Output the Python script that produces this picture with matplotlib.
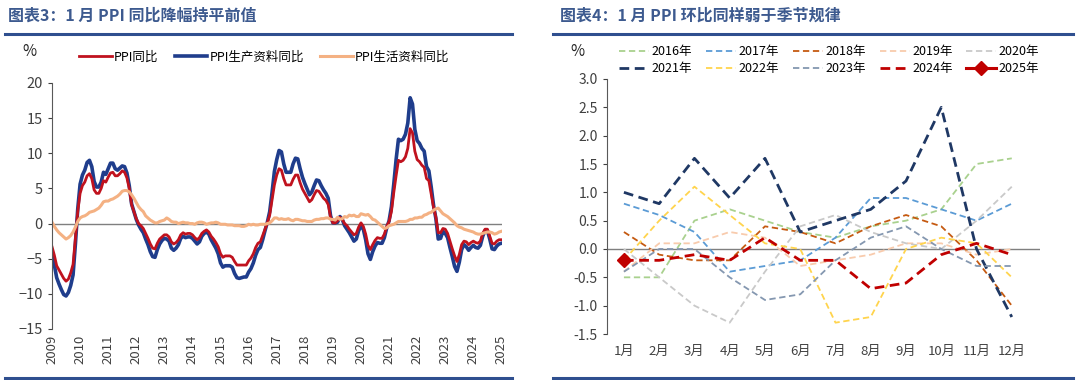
import matplotlib
matplotlib.use("Agg")
import matplotlib.pyplot as plt
from matplotlib.lines import Line2D
import numpy as np

plt.rcParams['font.family'] = ['Noto Sans CJK SC', 'DejaVu Sans']

# ---- 图表3 数据: 2009-01 ~ 2025-01 月度同比 (%)
ppi_yoy = [
    -3.3, -4.5, -6.0, -6.6, -7.2, -7.8, -8.2, -7.9, -7.0, -5.8, -2.1, 1.7,   # 2009
    4.3, 5.4, 5.9, 6.8, 7.1, 6.4, 4.8, 4.3, 4.3, 5.0, 6.1, 5.9,             # 2010
    6.6, 7.2, 7.3, 6.8, 6.8, 7.1, 7.5, 7.3, 6.5, 5.0, 2.7, 1.7,             # 2011
    0.7, 0.0, -0.3, -0.7, -1.4, -2.1, -2.9, -3.5, -3.6, -2.8, -2.2, -1.9,   # 2012
    -1.6, -1.6, -1.9, -2.6, -2.9, -2.7, -2.3, -1.6, -1.3, -1.5, -1.4, -1.4, # 2013
    -1.6, -2.0, -2.3, -2.0, -1.4, -1.1, -0.9, -1.2, -1.8, -2.2, -2.7, -3.3, # 2014
    -4.3, -4.8, -4.6, -4.6, -4.6, -4.8, -5.4, -5.9, -5.9, -5.9, -5.9, -5.9, # 2015
    -5.3, -4.9, -4.3, -3.4, -2.8, -2.6, -1.7, -0.8, 0.1, 1.2, 3.3, 5.5,     # 2016
    6.9, 7.8, 7.6, 6.4, 5.5, 5.5, 5.5, 6.3, 6.9, 6.9, 5.8, 4.9,             # 2017
    4.3, 3.7, 3.1, 3.4, 4.1, 4.7, 4.6, 4.1, 3.6, 3.3, 2.7, 0.9,             # 2018
    0.1, 0.1, 0.4, 0.9, 0.6, 0.0, -0.3, -0.8, -1.2, -1.6, -1.4, -0.5,       # 2019
    0.1, -0.4, -1.5, -3.1, -3.7, -3.0, -2.4, -2.0, -2.1, -2.1, -1.5, -0.4,  # 2020
    0.3, 1.7, 4.4, 6.8, 9.0, 8.8, 9.0, 9.5, 10.7, 13.5, 12.9, 10.3,         # 2021
    9.1, 8.8, 8.3, 8.0, 6.4, 6.1, 4.2, 2.3, 0.9, -1.3, -1.3, -0.7,          # 2022
    -0.8, -1.4, -2.5, -3.6, -4.6, -5.4, -4.4, -3.0, -2.5, -2.6, -3.0, -2.7, # 2023
    -2.5, -2.7, -2.8, -2.5, -1.4, -0.8, -0.8, -1.8, -2.8, -2.9, -2.5, -2.3, # 2024
    -2.3,                                                                    # 2025
]
ppi_producer_yoy = [
    -4.2, -5.9, -7.7, -8.6, -9.4, -10.1, -10.3, -9.8, -8.8, -7.3, -2.9, 2.1,
    5.6, 6.9, 7.6, 8.7, 9.0, 8.1, 6.0, 5.2, 5.2, 5.9, 7.3, 7.0,
    7.8, 8.6, 8.6, 7.8, 7.6, 7.9, 8.2, 8.1, 7.2, 5.4, 2.8, 1.7,
    0.6, -0.2, -0.8, -1.3, -2.2, -3.0, -4.0, -4.7, -4.8, -3.7, -2.9, -2.4,
    -2.1, -2.2, -2.5, -3.5, -3.8, -3.5, -3.0, -2.1, -1.8, -2.0, -1.9, -1.9,
    -2.1, -2.5, -2.9, -2.6, -1.8, -1.4, -1.2, -1.5, -2.3, -2.9, -3.5, -4.3,
    -5.6, -6.2, -6.0, -6.0, -6.0, -6.2, -7.1, -7.7, -7.8, -7.7, -7.6, -7.6,
    -6.9, -6.4, -5.6, -4.5, -3.7, -3.4, -2.3, -1.0, 0.2, 1.7, 4.4, 7.4,
    9.1, 10.4, 10.2, 8.5, 7.3, 7.3, 7.3, 8.5, 9.3, 9.2, 7.8, 6.6,
    5.7, 4.9, 4.1, 4.5, 5.4, 6.2, 6.1, 5.4, 4.8, 4.3, 3.6, 1.1,
    0.1, 0.1, 0.2, 1.0, 0.6, -0.3, -0.8, -1.3, -1.9, -2.5, -2.2, -1.0,
    -0.4, -0.8, -2.3, -4.3, -5.1, -4.0, -3.2, -2.7, -2.8, -2.8, -2.0, -0.6,
    0.4, 2.4, 5.6, 9.1, 12.0, 11.8, 12.0, 12.7, 14.3, 17.9, 17.0, 13.4,
    11.8, 11.4, 10.7, 10.3, 8.1, 7.5, 5.2, 2.6, 0.7, -2.2, -2.1, -1.1,
    -1.4, -2.0, -3.4, -4.7, -6.1, -6.8, -5.5, -3.7, -3.0, -3.3, -3.8, -3.4,
    -3.1, -3.4, -3.5, -3.1, -1.8, -1.0, -1.0, -2.2, -3.6, -3.7, -3.2, -2.9,
    -2.8,
]
ppi_consumer_yoy = [
    0.2, -0.4, -0.9, -1.3, -1.6, -1.9, -2.2, -2.0, -1.7, -1.2, -0.5, 0.3,
    0.8, 1.0, 1.1, 1.3, 1.6, 1.7, 1.8, 2.0, 2.2, 2.6, 3.1, 3.2,
    3.2, 3.4, 3.5, 3.7, 3.9, 4.2, 4.6, 4.7, 4.7, 4.5, 4.1, 3.6,
    3.0, 2.4, 2.0, 1.7, 1.1, 0.8, 0.5, 0.3, 0.1, 0.1, 0.3, 0.4,
    0.5, 0.8, 0.6, 0.3, 0.2, 0.2, 0.0, 0.1, 0.2, 0.1, 0.1, 0.0,
    0.0, -0.1, 0.1, 0.2, 0.2, 0.1, -0.1, 0.0, 0.1, 0.1, 0.2, 0.1,
    -0.1, -0.1, -0.1, -0.2, -0.2, -0.2, -0.3, -0.3, -0.3, -0.4, -0.4, -0.3,
    -0.1, -0.2, -0.1, -0.2, -0.2, -0.1, -0.1, -0.1, 0.0, 0.1, 0.4, 0.8,
    0.8, 0.6, 0.7, 0.6, 0.6, 0.7, 0.5, 0.4, 0.6, 0.6, 0.5, 0.4,
    0.4, 0.3, 0.3, 0.3, 0.5, 0.6, 0.6, 0.7, 0.7, 0.8, 0.8, 0.6,
    0.6, 0.5, 0.9, 0.6, 0.7, 1.0, 0.9, 1.2, 1.1, 1.2, 1.0, 1.0,
    1.4, 1.3, 1.2, 1.3, 1.0, 0.6, 0.5, 0.2, -0.1, -0.4, -0.7, -0.6,
    -0.3, -0.2, -0.1, 0.1, 0.3, 0.3, 0.3, 0.3, 0.4, 0.6, 0.6, 0.8,
    0.8, 0.9, 0.9, 1.2, 1.3, 1.5, 1.6, 1.9, 2.1, 2.2, 1.8, 1.4,
    1.2, 1.0, 0.7, 0.4, 0.1, -0.3, -0.5, -0.6, -0.8, -0.9, -1.0, -1.1,
    -1.2, -1.4, -1.5, -1.5, -1.4, -1.3, -1.2, -1.2, -1.3, -1.5, -1.4, -1.2,
    -1.1,
]
years_lbl = [str(y) for y in range(2009, 2026)]

# ---- 图表4 数据: 月度环比 (%)
months = ['1月', '2月', '3月', '4月', '5月', '6月', '7月', '8月', '9月', '10月', '11月', '12月']
mom = {
    '2016': [-0.5, -0.5, 0.5, 0.7, 0.5, 0.3, 0.2, 0.4, 0.5, 0.7, 1.5, 1.6],
    '2017': [0.8, 0.6, 0.3, -0.4, -0.3, -0.2, 0.2, 0.9, 0.9, 0.7, 0.5, 0.8],
    '2018': [0.3, -0.1, -0.2, -0.2, 0.4, 0.3, 0.1, 0.4, 0.6, 0.4, -0.2, -1.0],
    '2019': [-0.4, 0.1, 0.1, 0.3, 0.2, -0.3, -0.2, -0.1, 0.1, 0.1, -0.1, 0.0],
    '2020': [0.0, -0.5, -1.0, -1.3, -0.4, 0.4, 0.6, 0.3, 0.1, 0.0, 0.5, 1.1],
    '2021': [1.0, 0.8, 1.6, 0.9, 1.6, 0.3, 0.5, 0.7, 1.2, 2.5, 0.0, -1.2],
    '2022': [-0.2, 0.5, 1.1, 0.6, 0.1, 0.0, -1.3, -1.2, 0.0, 0.2, 0.1, -0.5],
    '2023': [-0.4, 0.0, 0.0, -0.5, -0.9, -0.8, -0.2, 0.2, 0.4, 0.0, -0.3, -0.3],
    '2024': [-0.2, -0.2, -0.1, -0.2, 0.2, -0.2, -0.2, -0.7, -0.6, -0.1, 0.1, -0.1],
    '2025': [-0.2],
}
mom_colors = {
    '2016': '#a9d18e', '2017': '#5b9bd5', '2018': '#c55a11', '2019': '#f8cbad',
    '2020': '#c9c9c9', '2021': '#1f3864', '2022': '#ffd44d', '2023': '#8497b0',
    '2024': '#c00000', '2025': '#c00000',
}

title_c = '#3d5a8f'
bar_c = '#2f4f8f'
tick_c = '#404040'

fig = plt.figure(figsize=(10.8, 3.8), dpi=100)

# 标题和装饰线
fig.text(8 / 1080, 1 - 16 / 380, '图表3：1 月 PPI 同比降幅持平前值', fontsize=11.5,
         color=title_c, style='italic', fontweight='bold', va='center')
fig.text(560 / 1080, 1 - 16 / 380, '图表4：1 月 PPI 环比同样弱于季节规律', fontsize=11.5,
         color=title_c, style='italic', fontweight='bold', va='center')
for x0, x1 in [(5, 512), (553, 1073)]:
    fig.add_artist(Line2D([x0 / 1080, x1 / 1080], [1 - 34 / 380] * 2, color=bar_c, lw=2.2))
    fig.add_artist(Line2D([x0 / 1080, x1 / 1080], [1 - 378 / 380] * 2, color=bar_c, lw=2.2))

# ---- 左图
ax1 = fig.add_axes([52 / 1080, 51 / 380, 450 / 1080, 246 / 380])
t = 2009 + np.arange(len(ppi_yoy)) / 12
ax1.axhline(0, color='#7f7f7f', lw=1)
l_blue, = ax1.plot(t, ppi_producer_yoy, color='#1f3d8c', lw=2.6, label='PPI生产资料同比')
l_red, = ax1.plot(t, ppi_yoy, color='#c0121e', lw=2.0, label='PPI同比')
l_tan, = ax1.plot(t, ppi_consumer_yoy, color='#f4b183', lw=2.2, label='PPI生活资料同比')
ax1.set_xlim(2009, 2025.02)
ax1.set_ylim(-15, 20)
ax1.set_yticks(range(-15, 21, 5))
ax1.set_xticks(range(2009, 2026))
ax1.set_xticklabels(years_lbl, rotation=90, fontsize=9.5, color=tick_c)
ax1.tick_params(axis='x', length=0, pad=4)
ax1.tick_params(axis='y', labelsize=10.5, colors=tick_c, length=3, direction='out')
for s in ['top', 'right', 'bottom']:
    ax1.spines[s].set_visible(False)
ax1.spines['left'].set_color('#595959')
ax1.legend(handles=[l_red, l_blue, l_tan], loc='center left',
           bbox_to_anchor=(0.06, 1 + 26 / 246), ncol=3, frameon=False, fontsize=9,
           handlelength=2.6, handletextpad=0.2, columnspacing=1.3, borderaxespad=0,
           borderpad=0)
fig.text(22 / 1080, 1 - 52 / 380, '%', fontsize=11, color='#262626', va='center')

# ---- 右图
ax2 = fig.add_axes([607 / 1080, 46 / 380, 433 / 1080, 255 / 380])
ax2.axhline(0, color='#7f7f7f', lw=1)
x = np.arange(12)
handles = {}
for yr, vals in mom.items():
    if yr == '2025':
        h, = ax2.plot(x[:len(vals)], vals, color=mom_colors[yr], lw=2.2, marker='D',
                      markersize=7, label=yr + '年', zorder=5)
    else:
        lw = 2.0 if yr in ('2021', '2024') else 1.3
        h, = ax2.plot(x, vals, color=mom_colors[yr], lw=lw, ls=(0, (3.5, 2)),
                      label=yr + '年')
    handles[yr] = h
ax2.set_xlim(-0.48, 11.8)
ax2.set_ylim(-1.5, 3.0)
ax2.set_yticks(np.arange(-1.5, 3.01, 0.5))
ax2.set_yticklabels([f'{v:.1f}' for v in np.arange(-1.5, 3.01, 0.5)])
ax2.set_xticks(x)
ax2.set_xticklabels(months, fontsize=9.5, color=tick_c)
ax2.tick_params(axis='x', length=0, pad=8)
ax2.tick_params(axis='y', labelsize=10, colors=tick_c, length=3, direction='out')
for s in ['top', 'right', 'bottom']:
    ax2.spines[s].set_visible(False)
ax2.spines['left'].set_color('#595959')
order = ['2016', '2021', '2017', '2022', '2018', '2023', '2019', '2024', '2020', '2025']
ax2.legend(handles=[handles[k] for k in order], loc='lower left',
           bbox_to_anchor=(0.02, 1.0), ncol=5, frameon=False, fontsize=9,
           handlelength=2.4, handletextpad=0.2, columnspacing=1.1,
           labelspacing=0.3, borderaxespad=0.1, borderpad=0.2)
fig.text(570 / 1080, 1 - 52 / 380, '%', fontsize=11, color='#262626', va='center')

fig.savefig('out.png', dpi=100)
